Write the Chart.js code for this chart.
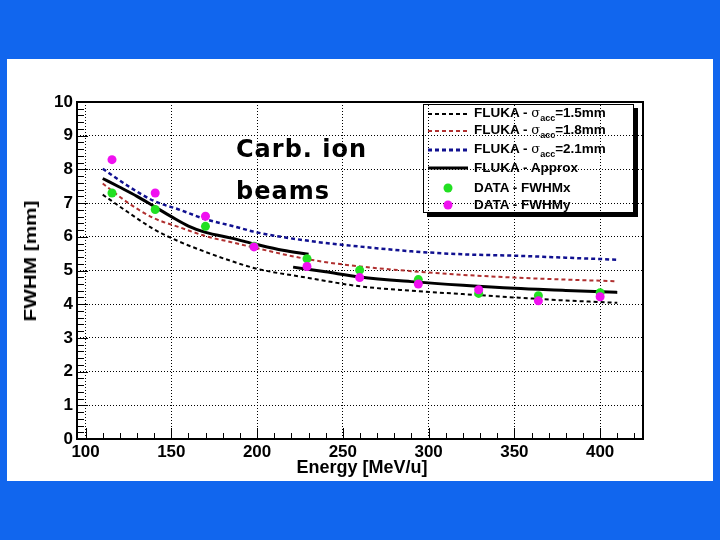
<!DOCTYPE html>
<html>
<head>
<meta charset="utf-8">
<script src="https://cdn.jsdelivr.net/npm/chart.js@4.4.1/dist/chart.umd.min.js"></script>
<style>
  html, body { margin: 0; padding: 0; }
  body { width: 720px; height: 540px; background: #1166ee; position: relative; overflow: hidden;
         font-family: "Liberation Sans", Arial, sans-serif; }
  #panel { position: absolute; left: 7px; top: 59px; width: 706px; height: 422px; background: #fff; }
  #chart { position: absolute; left: 0; top: 0; }
  .lbl { position: absolute; font-weight: bold; color: #000; white-space: nowrap; }
  #ytitle { left: 31px; top: 261px; font-size: 17px; transform: translate(-50%, -50%) rotate(-90deg) scaleX(1.22); }
  #xtitle { left: 362px; top: 467px; font-size: 18px; transform: translate(-50%, -50%); }
  #note { left: 236px; top: 129px; font-family: "DejaVu Sans", sans-serif; font-size: 24px;
          line-height: 41.7px; letter-spacing: 1px; }
  #legend { position: absolute; left: 423px; top: 104px; width: 211px; height: 109px; box-sizing: border-box;
            border: 1.5px solid #000; box-shadow: 4px 4px 0 #000; }
  .row { position: absolute; left: 0; height: 16px; display: flex; align-items: center; }
  .row svg { position: absolute; left: 4px; }
  .row span.t { position: absolute; left: 50px; font-weight: bold; font-size: 13.5px; white-space: nowrap; }
  .sig { font-weight: normal; font-family: "DejaVu Serif", serif; font-size: 13px; }
  .sub { font-size: 9px; vertical-align: -4px; }
</style>
</head>
<body>
<div id="panel"></div>
<canvas id="chart" width="720" height="540"></canvas>
<div class="lbl" id="ytitle">FWHM [mm]</div>
<div class="lbl" id="xtitle">Energy [MeV/u]</div>
<div class="lbl" id="note">Carb. ion<br>beams</div>
<div id="legend">
  <div class="row" style="top:0.5px"><svg width="40" height="8"><line x1="0" y1="4" x2="40" y2="4" stroke="#000" stroke-width="2" stroke-dasharray="4,3"/></svg><span class="t">FLUKA - <span class="sig">σ</span><span class="sub">acc</span>=1.5mm</span></div>
  <div class="row" style="top:18.3px"><svg width="40" height="8"><line x1="0" y1="4" x2="40" y2="4" stroke="#b03030" stroke-width="2" stroke-dasharray="4,3"/></svg><span class="t">FLUKA - <span class="sig">σ</span><span class="sub">acc</span>=1.8mm</span></div>
  <div class="row" style="top:36.5px"><svg width="40" height="8"><line x1="0" y1="4" x2="40" y2="4" stroke="#101090" stroke-width="3" stroke-dasharray="4,3"/></svg><span class="t">FLUKA - <span class="sig">σ</span><span class="sub">acc</span>=2.1mm</span></div>
  <div class="row" style="top:54.5px"><svg width="40" height="8"><line x1="0" y1="4" x2="40" y2="4" stroke="#000" stroke-width="3"/></svg><span class="t">FLUKA - Approx</span></div>
  <div class="row" style="top:74.7px"><svg width="40" height="10"><circle cx="20" cy="5" r="4.5" fill="#22e022"/></svg><span class="t">DATA - FWHMx</span></div>
  <div class="row" style="top:91.5px"><svg width="40" height="10"><circle cx="20" cy="5" r="4.5" fill="#f010f0"/></svg><span class="t">DATA - FWHMy</span></div>
</div>
<script>
// axis ticks
const xTicks = [100, 150, 200, 250, 300, 350, 400];
const yTicks = [0, 1, 2, 3, 4, 5, 6, 7, 8, 9, 10];

// measured beam widths
const energy = [115.4, 140.6, 169.9, 198.2, 229.1, 259.8, 294.0, 329.2, 364.0, 400.0];
const fwhmX = [7.30, 6.81, 6.31, 5.72, 5.35, 5.01, 4.73, 4.32, 4.25, 4.34];
const fwhmY = [8.29, 7.30, 6.61, 5.70, 5.12, 4.79, 4.60, 4.43, 4.10, 4.22];

// FLUKA curves
const curveE = [110, 125, 140, 155, 170, 185, 200, 230, 260, 290, 320, 350, 380, 410];
const fluka15 = [7.25, 6.72, 6.22, 5.85, 5.55, 5.28, 5.05, 4.78, 4.53, 4.40, 4.30, 4.20, 4.11, 4.04];
const fluka18 = [7.58, 7.00, 6.55, 6.28, 6.02, 5.84, 5.66, 5.33, 5.12, 4.98, 4.87, 4.79, 4.73, 4.68];
const fluka21 = [8.02, 7.50, 7.06, 6.80, 6.52, 6.33, 6.13, 5.88, 5.71, 5.57, 5.48, 5.44, 5.38, 5.32];

const approxE1 = [110, 120, 130, 140, 150, 160, 170, 185, 200, 215, 230];
const approx1 = [7.73, 7.47, 7.20, 6.90, 6.60, 6.32, 6.13, 5.96, 5.77, 5.60, 5.48];
const approxE2 = [221, 240, 260, 290, 320, 350, 380, 410];
const approx2 = [5.10, 4.96, 4.81, 4.67, 4.56, 4.47, 4.41, 4.35];

const pts = (xs, ys) => xs.map((x, i) => ({ x: x, y: ys[i] }));

function curve(xs, ys, color, width, dash) {
  return {
    data: pts(xs, ys), showLine: true, borderColor: color, borderWidth: width,
    borderDash: dash, pointRadius: 0, cubicInterpolationMode: 'monotone', fill: false
  };
}

// inside ticks and plot frame, ROOT style
const frameTicks = {
  id: 'frameTicks',
  afterDraw(chart) {
    const { ctx, chartArea: a, scales: { x, y } } = chart;
    ctx.save();
    ctx.strokeStyle = '#000';
    ctx.lineWidth = 1;
    ctx.beginPath();
    for (let v = 100; v <= 420; v += 10) {
      const px = Math.round(x.getPixelForValue(v)) + 0.5;
      const len = v % 50 === 0 ? 11 : 6;
      ctx.moveTo(px, a.bottom);
      ctx.lineTo(px, a.bottom - len);
    }
    for (let i = 0; i <= 50; i++) {
      const py = Math.round(y.getPixelForValue(i / 5)) + 0.5;
      const len = i % 5 === 0 ? 11 : 7;
      ctx.moveTo(a.left, py);
      ctx.lineTo(a.left + len, py);
    }
    ctx.stroke();
    ctx.lineWidth = 2;
    ctx.strokeRect(a.left, a.top, a.right - a.left, a.bottom - a.top);
    ctx.restore();
  }
};

const tickFont = { family: 'Liberation Sans', size: 17, weight: 'bold' };
const gridStyle = { color: '#000', lineWidth: 1, drawTicks: false };
const dotted = { display: false, dash: [1, 2] };

new Chart(document.getElementById('chart'), {
  type: 'scatter',
  data: {
    datasets: [
      { data: pts(energy, fwhmY), backgroundColor: '#f010f0', pointRadius: 4.5, borderWidth: 0 },
      { data: pts(energy, fwhmX), backgroundColor: '#22e022', pointRadius: 4.5, borderWidth: 0 },
      curve(approxE1, approx1, '#000', 3, []),
      curve(approxE2, approx2, '#000', 3, []),
      curve(curveE, fluka15, '#000', 2, [4, 3]),
      curve(curveE, fluka18, '#b03030', 2, [4, 3]),
      curve(curveE, fluka21, '#101090', 2.5, [4, 3])
    ]
  },
  options: {
    responsive: false,
    animation: false,
    devicePixelRatio: 1,
    layout: { padding: { left: 0, top: 102, right: 77, bottom: 0 } },
    plugins: { legend: { display: false }, tooltip: { enabled: false } },
    scales: {
      x: {
        type: 'linear', min: 95, max: 425,
        afterBuildTicks: s => { s.ticks = xTicks.map(v => ({ value: v })); },
        afterFit: s => { s.height = 101; },
        grid: gridStyle,
        border: dotted,
        ticks: { font: tickFont, color: '#000', padding: 3, maxRotation: 0, autoSkip: false }
      },
      y: {
        type: 'linear', min: 0, max: 10,
        afterBuildTicks: s => { s.ticks = yTicks.map(v => ({ value: v })); },
        afterFit: s => { s.width = 77; },
        grid: gridStyle,
        border: dotted,
        ticks: { font: tickFont, color: '#000', padding: 4, autoSkip: false }
      }
    }
  },
  plugins: [frameTicks]
});
</script>
</body>
</html>
